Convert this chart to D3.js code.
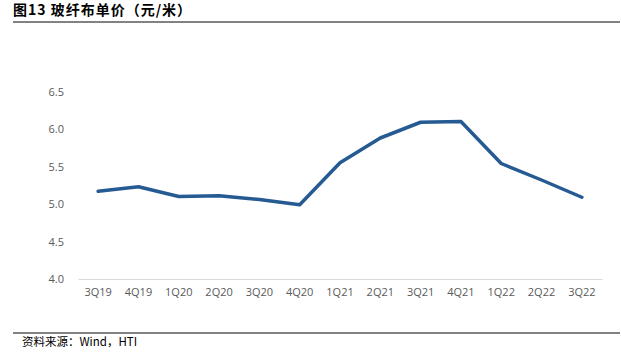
<!DOCTYPE html>
<html>
<head>
<meta charset="utf-8">
<script src="https://cdn.jsdelivr.net/npm/d3@7"></script>
<style>
  html, body { margin: 0; padding: 0; background: #fff; }
  svg { display: block; }
</style>
</head>
<body>
<svg id="chart" width="621" height="354"></svg>
<script>
const categories = ["3Q19","4Q19","1Q20","2Q20","3Q20","4Q20","1Q21","2Q21","3Q21","4Q21","1Q22","2Q22","3Q22"];
const values = [5.17, 5.23, 5.10, 5.11, 5.06, 4.99, 5.55, 5.88, 6.09, 6.10, 5.54, 5.32, 5.09];
const yTicks = [4.0, 4.5, 5.0, 5.5, 6.0, 6.5];
const titleText = "图13 玻纤布单价（元/米）";
const sourceText = "资料来源：Wind，HTI";

(function () {
const svg = d3.select("#chart");
const plotLeft = 78, plotRight = 602, plotTop = 91.5, plotBottom = 279;

const x = d3.scaleBand().domain(categories).range([plotLeft, plotRight]).padding(0);
const y = d3.scaleLinear().domain([4.0, 6.5]).range([plotBottom, plotTop]);

// title
svg.append("text")
  .attr("x", 13).attr("y", 15)
  .attr("font-family", "'Noto Sans CJK SC', sans-serif")
  .attr("font-weight", "bold")
  .attr("font-size", 14)
  .attr("letter-spacing", 1)
  .attr("fill", "#000")
  .text(titleText);
svg.append("line")
  .attr("x1", 13).attr("x2", 620).attr("y1", 22).attr("y2", 22)
  .attr("stroke", "#595959").attr("stroke-width", 1.3);

// footer
svg.append("line")
  .attr("x1", 13).attr("x2", 620).attr("y1", 333).attr("y2", 333)
  .attr("stroke", "#595959").attr("stroke-width", 1.3);
svg.append("text")
  .attr("x", 22).attr("y", 346)
  .attr("font-family", "'Noto Sans CJK SC', sans-serif")
  .attr("font-size", 11.5)
  .attr("fill", "#000")
  .text(sourceText);

// y axis
const yAxis = d3.axisLeft(y).tickValues(yTicks).tickFormat(d3.format(".1f")).tickSize(0).tickPadding(0);
const gy = svg.append("g").attr("transform", `translate(${plotLeft - 14},0)`).call(yAxis);
gy.select(".domain").remove();
gy.selectAll("text")
  .attr("font-family", "'Open Sans', sans-serif")
  .attr("font-size", 11)
  .attr("fill", "#595959");

// x axis
const xAxis = d3.axisBottom(x).tickSize(0).tickPadding(0);
const gx = svg.append("g").attr("transform", `translate(0,${plotBottom})`).call(xAxis);
gx.select(".domain").attr("stroke", "#d9d9d9").attr("stroke-width", 1);
gx.selectAll("text")
  .attr("dy", "1.55em")
  .attr("font-family", "'Open Sans', sans-serif")
  .attr("font-size", 11)
  .attr("fill", "#595959");

// line
const line = d3.line()
  .x((d, i) => x(categories[i]) + x.bandwidth() / 2)
  .y(d => y(d));
svg.append("path")
  .datum(values)
  .attr("d", line)
  .attr("fill", "none")
  .attr("stroke", "#255A92")
  .attr("stroke-width", 3.5)
  .attr("stroke-linejoin", "round")
  .attr("stroke-linecap", "round");
})();
</script>
</body>
</html>
